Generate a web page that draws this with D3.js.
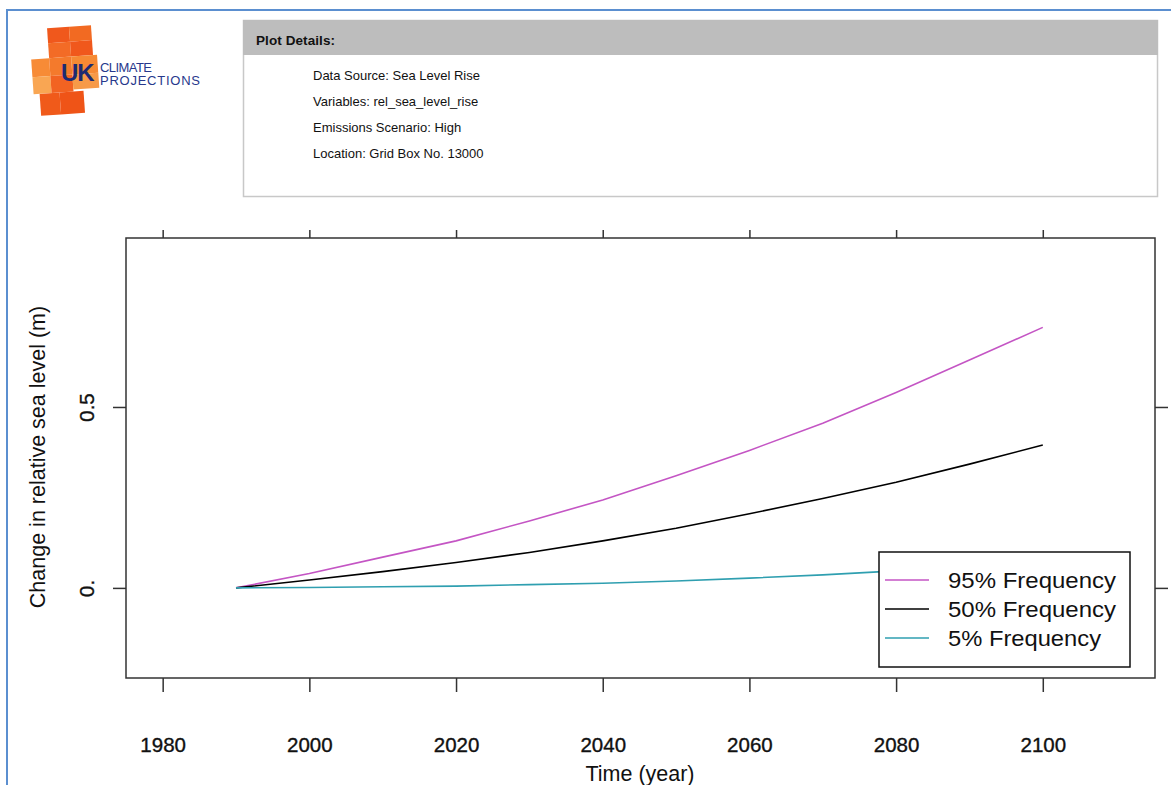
<!DOCTYPE html>
<html>
<head>
<meta charset="utf-8">
<script src="https://cdn.jsdelivr.net/npm/d3@7"></script>
<style>
  body { margin: 0; background: #fff; }
  svg { display: block; font-family: "Liberation Sans", Arial, sans-serif; }
</style>
</head>
<body>
<svg id="chart" width="1171" height="785"></svg>
<script>
// data
const years = [1990, 2000, 2010, 2020, 2030, 2040, 2050, 2060, 2070, 2080, 2090, 2100];
const freq95 = [0, 0.04, 0.085, 0.13, 0.185, 0.243, 0.31, 0.38, 0.455, 0.54, 0.63, 0.72];
const freq50 = [0, 0.022, 0.045, 0.07, 0.098, 0.13, 0.165, 0.205, 0.247, 0.292, 0.342, 0.395];
const freq5 = [0, 0.001, 0.003, 0.005, 0.009, 0.013, 0.019, 0.027, 0.036, 0.047, 0.06, 0.074];
const seriesNames = ['95% Frequency', '50% Frequency', '5% Frequency'];
const seriesColors = ['#c455c4', '#000000', '#2f9fb0'];
const xTicks = [1980, 2000, 2020, 2040, 2060, 2080, 2100];
const yTicks = [0, 0.5];
const yTickLabels = ['0.', '0.5'];
const details = ['Data Source: Sea Level Rise', 'Variables: rel_sea_level_rise',
                 'Emissions Scenario: High', 'Location: Grid Box No. 13000'];

const svg = d3.select('#chart');

// blue page frame
svg.append('rect').attr('x', 7).attr('y', 10).attr('width', 1200).attr('height', 800)
  .attr('fill', 'none').attr('stroke', '#5b8fd0').attr('stroke-width', 2);

// logo (orange squares + text)
const logo = svg.append('g').attr('transform', 'rotate(-4 66 70)');
const cells = [
  [50, 27, 22, 15, '#f0581c'], [72, 27, 22, 15, '#f26a22'],
  [50, 42, 22, 15, '#f36b26'], [72, 42, 22, 15, '#f0581c'],
  [32, 57, 18, 18, '#f78b36'], [50, 57, 22, 18, '#f47a2c'], [72, 57, 26, 18, '#f68a34'],
  [32, 75, 18, 17, '#f9a653'], [50, 75, 22, 17, '#f26322'], [72, 75, 26, 15, '#f79a48'],
  [38, 92, 20, 22, '#f05a1a'], [58, 92, 24, 22, '#ef5417']
];
logo.selectAll('rect').data(cells).join('rect')
  .attr('x', d => d[0]).attr('y', d => d[1]).attr('width', d => d[2]).attr('height', d => d[3])
  .attr('fill', d => d[4]);
svg.append('text').attr('x', 61).attr('y', 81).text('UK')
  .attr('font-size', 24).attr('font-weight', 'bold').attr('fill', '#1d2a72').attr('letter-spacing', -1);
svg.append('text').attr('x', 100).attr('y', 72).text('CLIMATE')
  .attr('font-size', 13).attr('fill', '#27388c').attr('textLength', 52);
svg.append('text').attr('x', 100).attr('y', 85).text('PROJECTIONS')
  .attr('font-size', 13).attr('fill', '#27388c').attr('textLength', 100);

// plot details box
svg.append('rect').attr('x', 243.5).attr('y', 20.5).attr('width', 914).attr('height', 176)
  .attr('fill', '#fff').attr('stroke', '#c8c8c8').attr('stroke-width', 1.5);
svg.append('rect').attr('x', 243).attr('y', 20).attr('width', 915).attr('height', 35).attr('fill', '#bdbdbd');
svg.append('text').attr('x', 256).attr('y', 45).text('Plot Details:')
  .attr('font-size', 13.5).attr('font-weight', 'bold').attr('fill', '#111').attr('textLength', 79);
svg.selectAll('.detail').data(details).join('text').attr('class', 'detail')
  .attr('x', 313).attr('y', (d, i) => 80 + i * 26).text(d => d)
  .attr('font-size', 13).attr('fill', '#111');

// scales
const pLeft = 126, pRight = 1155, pTop = 238, pBottom = 678;
const x = d3.scaleLinear().domain([1975, 2115.3]).range([pLeft, pRight]);
const y = d3.scaleLinear().domain([-0.249, 0.967]).range([pBottom, pTop]);

// axes with ticks on all sides
const axisColor = '#333';
const labelFont = '"Liberation Sans", Arial, sans-serif';
const bAxis = svg.append('g').attr('transform', `translate(0,${pBottom})`)
  .call(d3.axisBottom(x).tickValues(xTicks).tickFormat(d3.format('d')).tickSize(14).tickSizeOuter(0));
bAxis.selectAll('text').attr('dy', 0).attr('y', 74).attr('font-size', 20.5).attr('fill', '#111')
  .attr('stroke', '#111').attr('stroke-width', 0.35).attr('font-family', labelFont);
const tAxis = svg.append('g').attr('transform', `translate(0,${pTop})`)
  .call(d3.axisTop(x).tickValues(xTicks).tickFormat('').tickSize(8).tickSizeOuter(0));
const lAxis = svg.append('g').attr('transform', `translate(${pLeft},0)`)
  .call(d3.axisLeft(y).tickValues(yTicks).tickFormat((d, i) => yTickLabels[i]).tickSize(13).tickSizeOuter(0));
lAxis.selectAll('text').attr('x', null).attr('dy', null)
  .attr('transform', 'translate(-37,0) rotate(-90)').attr('text-anchor', 'middle')
  .attr('dominant-baseline', 'middle').attr('font-size', 20.5).attr('fill', '#111')
  .attr('stroke', '#111').attr('stroke-width', 0.35).attr('font-family', labelFont);
const rAxis = svg.append('g').attr('transform', `translate(${pRight},0)`)
  .call(d3.axisRight(y).tickValues(yTicks).tickFormat('').tickSize(13).tickSizeOuter(0));
[bAxis, tAxis, lAxis, rAxis].forEach(a => {
  a.select('.domain').remove();
  a.selectAll('line').attr('stroke', axisColor).attr('stroke-width', 1.5);
});
svg.append('rect').attr('x', pLeft).attr('y', pTop).attr('width', pRight - pLeft).attr('height', pBottom - pTop)
  .attr('fill', 'none').attr('stroke', axisColor).attr('stroke-width', 1.5);

// series lines
const line = d3.line().x((d, i) => x(years[i])).y(d => y(d));
const allSeries = [freq95, freq50, freq5];
svg.selectAll('.series').data(allSeries).join('path').attr('class', 'series')
  .attr('d', d => line(d)).attr('fill', 'none')
  .attr('stroke', (d, i) => seriesColors[i]).attr('stroke-width', 1.6);

// legend
const legendWidths = [168, 168, 153];
const lg = svg.append('g').attr('transform', 'translate(879,552)');
lg.append('rect').attr('width', 251).attr('height', 115)
  .attr('fill', '#fff').attr('stroke', '#111').attr('stroke-width', 1.5);
seriesNames.forEach((name, i) => {
  const cy = 28 + i * 29;
  lg.append('line').attr('x1', 6).attr('x2', 50).attr('y1', cy).attr('y2', cy)
    .attr('stroke', seriesColors[i]).attr('stroke-width', 1.3);
  lg.append('text').attr('x', 69).attr('y', cy).attr('dy', '0.35em').text(name)
    .attr('font-size', 22).attr('fill', '#111')
    .attr('textLength', legendWidths[i]).attr('lengthAdjust', 'spacingAndGlyphs');
});

// axis titles
svg.append('text').attr('x', 640).attr('y', 781).attr('text-anchor', 'middle')
  .text('Time (year)').attr('font-size', 21.5).attr('fill', '#111');
svg.append('text').attr('transform', 'translate(45,457) rotate(-90)').attr('text-anchor', 'middle')
  .text('Change in relative sea level (m)').attr('font-size', 21.5).attr('fill', '#111');
</script>
</body>
</html>
